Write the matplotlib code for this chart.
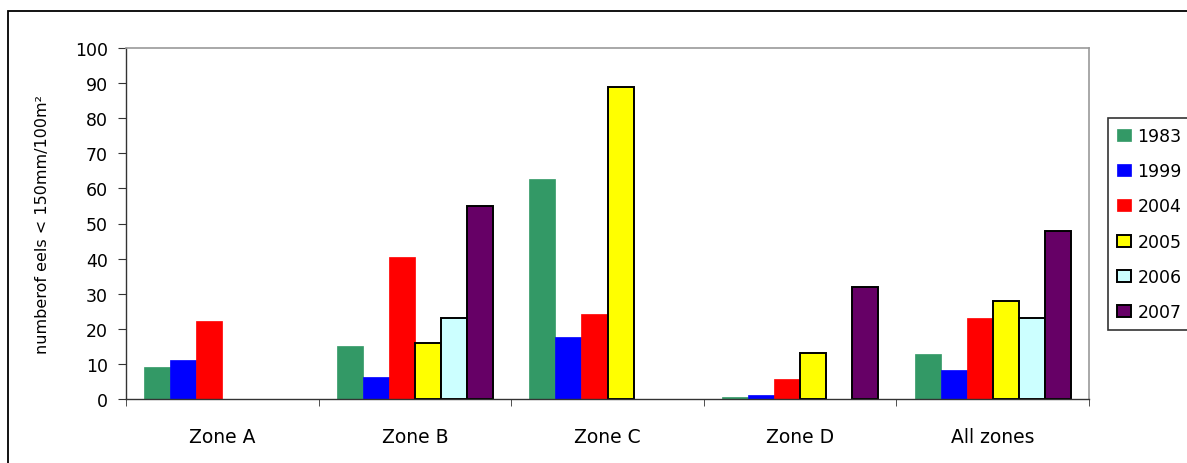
import numpy as np
import matplotlib.pyplot as plt
from matplotlib.patches import Rectangle

plt.rcParams["font.family"] = ["DejaVu Sans"]

zones = ["Zone A", "Zone B", "Zone C", "Zone D", "All zones"]
years = ["1983", "1999", "2004", "2005", "2006", "2007"]

nan = np.nan
eels_1983 = [9.1, 15.1, 62.7, 0.5, 12.7]
eels_1999 = [11.1, 6.2, 17.7, 1.1, 8.2]
eels_2004 = [22.1, 40.5, 24.1, 5.6, 23.1]
eels_2005 = [nan, 16.0, 89.0, 13.0, 28.0]
eels_2006 = [nan, 23.0, nan, nan, 23.0]
eels_2007 = [nan, 55.0, nan, 32.0, 47.9]

series = [eels_1983, eels_1999, eels_2004, eels_2005, eels_2006, eels_2007]
colors = ["#339966", "#0000FF", "#FF0000", "#FFFF00", "#CCFFFF", "#660066"]
outlined = [False, False, False, True, True, True]

W, H = 1187, 464
fig = plt.figure(figsize=(W / 100, H / 100), dpi=100)
ax = fig.add_axes([126 / W, 1 - 400 / H, (1089 - 126) / W, (400 - 49) / H])

# outer chart frame (runs off the right and bottom edges)
fig.patches.append(Rectangle((8 / W, -0.1), 1.2, 1 - 12 / H + 0.1,
                             transform=fig.transFigure, fill=False,
                             edgecolor="black", linewidth=1.3, clip_on=False))

x = np.arange(len(zones))
bw = 1 / 7.4
for i, (vals, c, ol) in enumerate(zip(series, colors, outlined)):
    pos = x - 3 * bw + (i + 0.5) * bw
    ec = "black" if ol else c
    lw = 1.4 if ol else 0.5
    ax.bar(pos, vals, width=bw, color=c, edgecolor=ec, linewidth=lw,
           label=years[i], zorder=2)

ax.set_xlim(-0.5, len(zones) - 0.5)
ax.set_ylim(0, 100)
ax.set_yticks(range(0, 101, 10))
ax.set_xticks(x)
ax.set_xticklabels(zones)
ax.set_xticks(np.arange(-0.5, len(zones)), minor=True)
ax.tick_params(axis="x", which="major", length=0, labelsize=13.5, pad=20)
ax.tick_params(axis="x", which="minor", length=5, direction="out",
               color="#333333")
ax.tick_params(axis="y", length=6, direction="out", labelsize=12.5,
               color="#333333", pad=7)

for s in ["left", "bottom"]:
    ax.spines[s].set_color("#333333")
    ax.spines[s].set_linewidth(1.0)
for s in ["top", "right"]:
    ax.spines[s].set_color("#999999")
    ax.spines[s].set_linewidth(1.2)

ax.set_ylabel("numberof eels < 150mm/100m²", fontsize=11.5, labelpad=18)

leg = fig.legend(loc="upper left", bbox_to_anchor=(1108 / W, 1 - 119 / H),
                 fontsize=12.5, frameon=True, fancybox=False,
                 handlelength=0.8, handleheight=0.7, handletextpad=0.4,
                 labelspacing=1.0, borderpad=0.5, borderaxespad=0)
leg.get_frame().set_edgecolor("black")
leg.get_frame().set_linewidth(1.2)

fig.savefig("out.png", dpi=100)
